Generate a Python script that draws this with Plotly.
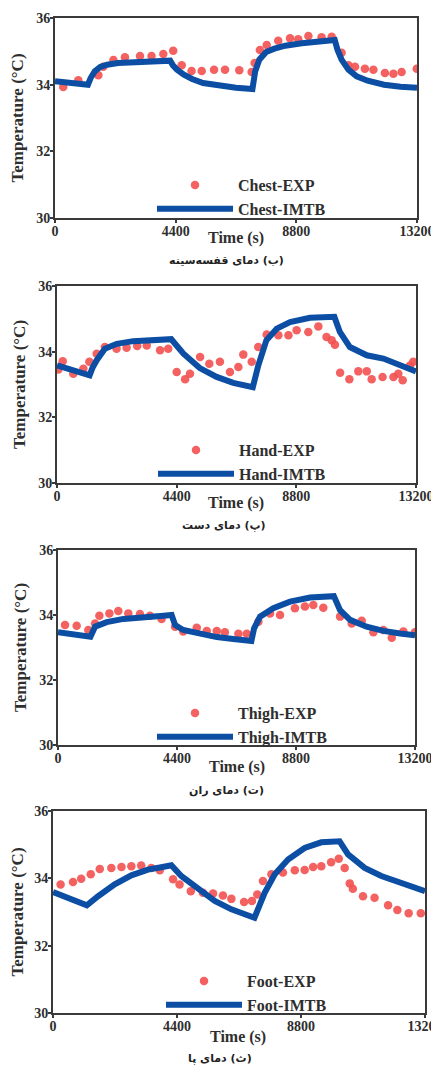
import plotly.graph_objects as go

# ---------------- data ----------------
x_ticks = [0, 4400, 8800, 13200]
y_ticks = [30, 32, 34, 36]

chest_exp_t = [300, 850, 1580, 1760, 2130, 2550, 3100, 3520, 3950, 4310, 4620, 4980, 5350, 5800, 6200,
               6720, 7170, 7280, 7470, 7720, 8140, 8570, 8870, 9240, 9720, 10090, 10450, 10700, 10940,
               11300, 11610, 12030, 12340, 12640, 13190]
chest_exp_T = [33.93, 34.13, 34.28, 34.54, 34.74, 34.82, 34.86, 34.86, 34.92, 35.02, 34.58, 34.41, 34.41,
               34.45, 34.45, 34.43, 34.38, 34.65, 35.04, 35.19, 35.32, 35.39, 35.36, 35.46, 35.42, 35.44,
               34.96, 34.58, 34.54, 34.48, 34.45, 34.35, 34.33, 34.38, 34.48]
chest_imtb_t = [0, 600, 1200, 1300, 1450, 1650, 1900, 2300, 3000, 3700, 4200, 4300, 4450, 4700, 5000,
                5400, 6000, 6600, 7200, 7300, 7450, 7700, 8000, 8400, 9000, 9600, 10200, 10300, 10450,
                10700, 11000, 11400, 12000, 12600, 13200]
chest_imtb_T = [34.1, 34.06, 34.0, 34.2, 34.4, 34.53, 34.6, 34.65, 34.69, 34.71, 34.72, 34.58, 34.45,
                34.3, 34.17, 34.05, 33.96, 33.91, 33.87, 34.4, 34.75, 34.98, 35.08, 35.17, 35.24, 35.29,
                35.34, 35.05, 34.75, 34.45, 34.25, 34.12, 34.0, 33.94, 33.91]

hand_exp_t = [50, 210, 600, 970, 1190, 1460, 1760, 2190, 2560, 2950, 3300, 3790, 4090, 4400, 4710,
              4890, 5260, 5600, 5990, 6360, 6670, 6850, 7160, 7400, 7710, 8140, 8510, 8810, 9240, 9610,
              9910, 10100, 10220, 10410, 10750, 11080, 11390, 11570, 11970, 12370, 12550, 12710, 12980,
              13100]
hand_exp_T = [33.46, 33.71, 33.33, 33.48, 33.69, 33.94, 34.14, 34.09, 34.12, 34.17, 34.19, 34.04, 34.09,
              33.38, 33.16, 33.33, 33.84, 33.63, 33.69, 33.38, 33.53, 33.91, 33.69, 34.14, 34.52, 34.50,
              34.50, 34.65, 34.60, 34.77, 34.45, 34.35, 34.21, 33.36, 33.16, 33.40, 33.40, 33.16, 33.23,
              33.23, 33.33, 33.13, 33.58, 33.69]
hand_imtb_t = [0, 600, 1200, 1300, 1460, 1760, 2200, 2800, 3400, 4200, 4650, 5250, 5870, 6480, 7200,
               7400, 7700, 8080, 8570, 9300, 10200, 10400, 10770, 11390, 12000, 12600, 13200]
hand_imtb_T = [33.58, 33.43, 33.28, 33.5, 33.74, 34.09, 34.24, 34.32, 34.36, 34.38, 33.94, 33.5, 33.23,
               33.05, 32.92, 33.58, 34.35, 34.7, 34.9, 35.03, 35.06, 34.6, 34.14, 33.89, 33.79, 33.58,
               33.40]

thigh_exp_t = [260, 690, 1120, 1370, 1530, 1900, 2230, 2600, 3030, 3400, 3830, 4330, 4630, 5130, 5500,
               5870, 6170, 6670, 6980, 7410, 7840, 8210, 8760, 9130, 9440, 9810, 10430, 10860, 11230,
               11660, 12030, 12340, 12770, 13200]
thigh_exp_T = [33.69, 33.67, 33.54, 33.74, 33.98, 34.05, 34.12, 34.05, 34.03, 33.98, 33.88, 33.64, 33.49,
               33.61, 33.51, 33.51, 33.47, 33.42, 33.42, 33.79, 34.05, 34.00, 34.21, 34.26, 34.31, 34.22,
               33.95, 33.74, 33.82, 33.47, 33.54, 33.30, 33.49, 33.47]
thigh_imtb_t = [0, 600, 1200, 1370, 1800, 2420, 3150, 3900, 4200, 4330, 4630, 5250, 5870, 6480, 7150,
                7250, 7470, 7960, 8580, 9320, 10200, 10430, 10800, 11410, 12030, 12650, 13200]
thigh_imtb_T = [33.47, 33.4, 33.33, 33.64, 33.78, 33.88, 33.95, 33.98, 34.0, 33.69, 33.54, 33.41, 33.32,
                33.26, 33.2, 33.59, 33.95, 34.21, 34.41, 34.54, 34.58, 34.15, 33.85, 33.64, 33.51, 33.43,
                33.38]

foot_exp_t = [270, 710, 1000, 1340, 1660, 2070, 2430, 2780, 3130, 3490, 3790, 4260, 4490, 4890, 5320,
              5680, 6030, 6330, 6780, 7060, 7250, 7450, 7750, 8160, 8580, 8930, 9230, 9520, 9870, 10140,
              10350, 10530, 10640, 11000, 11410, 11890, 12220, 12620, 13050]
foot_exp_T = [33.82, 33.89, 33.99, 34.12, 34.28, 34.31, 34.34, 34.36, 34.38, 34.31, 34.24, 33.97, 33.82,
              33.62, 33.57, 33.55, 33.49, 33.39, 33.30, 33.33, 33.52, 33.92, 34.12, 34.17, 34.24, 34.25,
              34.34, 34.36, 34.48, 34.58, 34.31, 33.85, 33.69, 33.47, 33.42, 33.20, 33.06, 32.96, 32.96]
foot_imtb_t = [0, 600, 1200, 1600, 2190, 2780, 3370, 3840, 4200, 4550, 5150, 5740, 6330, 7150, 7510,
               7870, 8340, 8930, 9520, 10170, 10470, 11060, 11650, 12360, 13200]
foot_imtb_T = [33.59, 33.4, 33.2, 33.47, 33.82, 34.09, 34.26, 34.33, 34.39, 34.07, 33.67, 33.33, 33.08,
               32.83, 33.57, 34.12, 34.56, 34.9, 35.07, 35.1, 34.71, 34.31, 34.07, 33.87, 33.62]

names = ["Chest", "Hand", "Thigh", "Foot"]
captions = ["(ب) دمای قفسه‌سینه", "(پ) دمای دست", "(ت) دمای ران", "(ث) دمای پا"]
x_title = "Time (s)"
y_title = "Temperature (°C)"
exp_t = [chest_exp_t, hand_exp_t, thigh_exp_t, foot_exp_t]
exp_T = [chest_exp_T, hand_exp_T, thigh_exp_T, foot_exp_T]
imtb_t = [chest_imtb_t, hand_imtb_t, thigh_imtb_t, foot_imtb_t]
imtb_T = [chest_imtb_T, hand_imtb_T, thigh_imtb_T, foot_imtb_T]

# ---------------- layout geometry (page pixels) ----------------
OFF = 8                      # default body margin of the html page
W, H = 431, 1061             # figure size so that figure + margin fills the window
plot_px = [  # left, right, top, bottom
    (55, 417, 18, 218),
    (57, 416, 286, 483),
    (58, 415, 550, 745),
    (53, 425, 811, 1013),
]
legend_px = [(152, 168), (153, 433), (152, 696), (161, 964)]
xtitle_px = [(236, 238), (236, 503), (237, 767), (238, 1037)]
caption_px = [(226, 260), (224, 525), (227, 790), (220, 1058)]


def px(x):
    return (x - OFF) / W


def py(y):
    return 1 - (y - OFF) / H


RED = "#F25050"
BLUE = "#0B4EA3"
SERIF = "Liberation Serif"
DARK = "#2e2e2e"

fig = go.Figure()
layout = dict(
    width=W, height=H,
    margin=dict(l=0, r=0, t=0, b=0),
    paper_bgcolor="white", plot_bgcolor="white",
    font=dict(family=SERIF, color=DARK),
    annotations=[],
)

for i in range(4):
    k = "" if i == 0 else str(i + 1)
    fig.add_trace(go.Scatter(
        x=exp_t[i], y=exp_T[i], mode="markers", name=f"{names[i]}-EXP",
        xaxis="x" + k, yaxis="y" + k, legend="legend" + k,
        marker=dict(color=RED, size=8.5, opacity=0.9, line=dict(width=0)),
    ))
    fig.add_trace(go.Scatter(
        x=imtb_t[i], y=imtb_T[i], mode="lines", name=f"{names[i]}-IMTB",
        xaxis="x" + k, yaxis="y" + k, legend="legend" + k,
        line=dict(color=BLUE, width=6),
    ))
    L, R, T, B = plot_px[i]
    axis_common = dict(
        showline=True, linecolor="#3a3a3a", linewidth=2, mirror=True,
        showgrid=False, zeroline=False, ticks="outside", ticklen=3, tickwidth=1.5,
        tickcolor="#3a3a3a", automargin=False, ticklabeloverflow="allow",
        tickfont=dict(family=SERIF, size=14, color=DARK, weight="bold"),
    )
    layout["xaxis" + k] = dict(
        axis_common, domain=[px(L), px(R)], anchor="y" + k,
        range=[0, 13200], tickvals=x_ticks, ticktext=[str(v) for v in x_ticks],
        ticklabelstandoff=-4,
    )
    layout["yaxis" + k] = dict(
        axis_common, domain=[py(B), py(T)], anchor="x" + k,
        range=[30, 36], tickvals=y_ticks, ticktext=[str(v) for v in y_ticks],
        ticklabelstandoff=-3,
        title=dict(text=y_title, standoff=8,
                   font=dict(family=SERIF, size=17, color=DARK, weight="bold")),
    )
    lx, ly = legend_px[i]
    layout["legend" + k] = dict(
        x=px(lx), y=py(ly), xanchor="left", yanchor="top",
        bgcolor="rgba(0,0,0,0)", itemwidth=76, tracegroupgap=0,
        font=dict(family=SERIF, size=16, color=DARK, weight="bold"),
    )
    tx, ty = xtitle_px[i]
    layout["annotations"].append(dict(
        text=x_title, xref="paper", yref="paper", x=px(tx), y=py(ty),
        showarrow=False, xanchor="center", yanchor="middle",
        font=dict(family=SERIF, size=16, color=DARK, weight="bold"),
    ))
    cx, cy = caption_px[i]
    layout["annotations"].append(dict(
        text="\u200f" + captions[i] + "\u200f", xref="paper", yref="paper",
        x=px(cx), y=py(cy), showarrow=False, xanchor="center", yanchor="middle",
        font=dict(family="DejaVu Sans", size=11, color="#222", weight="bold"),
    ))

fig.update_layout(**layout)
fig.write_html("out.html")
